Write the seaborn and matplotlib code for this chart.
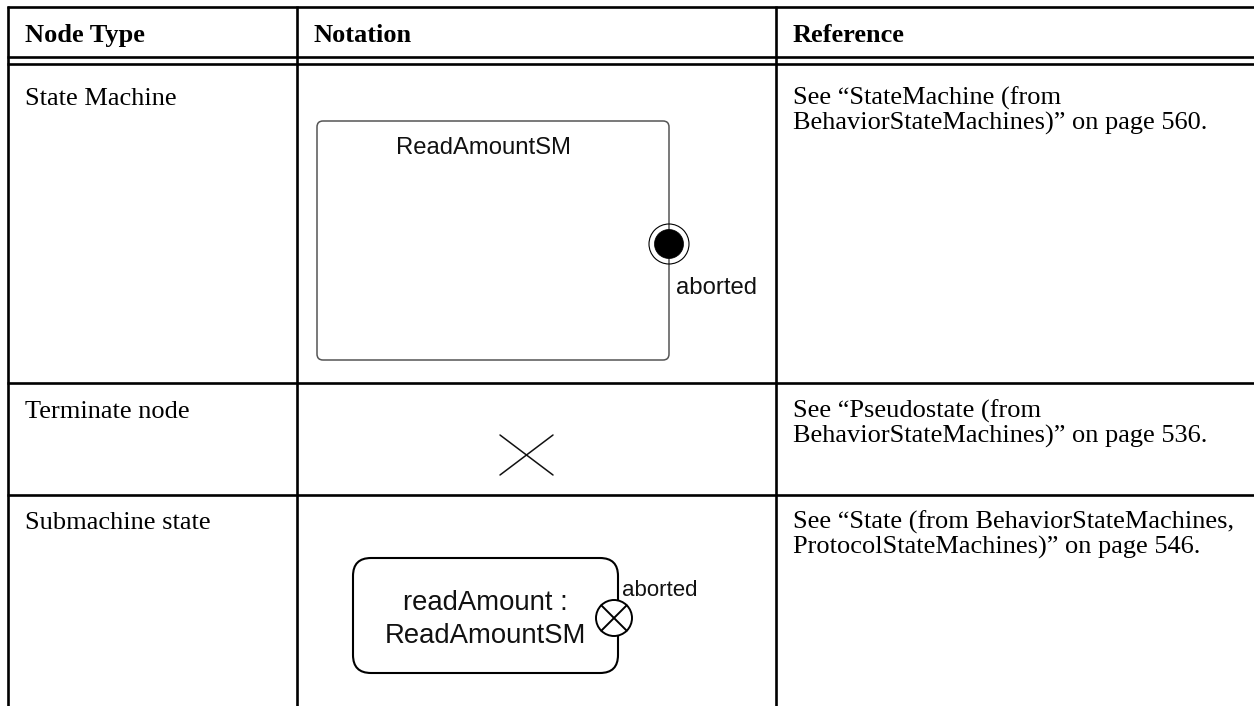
import matplotlib
matplotlib.use("Agg")
import matplotlib.pyplot as plt
from matplotlib.patches import FancyBboxPatch, Circle
import seaborn as sns

# table content
headers = ["Node Type", "Notation", "Reference"]
node_types = ["State Machine", "Terminate node", "Submachine state"]
references = [
    ["See \u201cStateMachine (from", "BehaviorStateMachines)\u201d on page 560."],
    ["See \u201cPseudostate (from", "BehaviorStateMachines)\u201d on page 536."],
    ["See \u201cState (from BehaviorStateMachines,", "ProtocolStateMachines)\u201d on page 546."],
]
sm_name = "ReadAmountSM"
exit_label = "aborted"
submachine_lines = ["readAmount :", "ReadAmountSM"]

sns.set_theme(style="white")
serif = ["Liberation Serif", "DejaVu Serif"]
sans = ["Liberation Sans", "DejaVu Sans"]

W, H = 1254, 706
fig = plt.figure(figsize=(W / 100, H / 100), dpi=100)
ax = fig.add_axes([0, 0, 1, 1])
ax.set_xlim(0, W)
ax.set_ylim(H, 0)
ax.axis("off")

# grid of the table (pixel layout)
col_x = [8, 297, 776]
row_y = [7, 57, 64, 383, 495]
lw = 1.9
for y in row_y:
    ax.plot([col_x[0] - 1, W], [y, y], color="black", lw=lw, solid_capstyle="butt")
for x in col_x:
    ax.plot([x, x], [row_y[0] - 1, H], color="black", lw=lw, solid_capstyle="butt")

pad = 17
# header
for x, h in zip(col_x, headers):
    ax.text(x + pad, 42, h, family=serif, fontweight="bold", fontsize=19,
            va="baseline", ha="left", color="black")

# body rows
baselines = [105, 418, 529]
for base, name, ref in zip(baselines, node_types, references):
    ax.text(col_x[0] + pad, base, name, family=serif, fontsize=19,
            va="baseline", ha="left", color="black")
    for i, line in enumerate(ref):
        ax.text(col_x[2] + pad, base + i * 25, line, family=serif, fontsize=19,
                va="baseline", ha="left", color="black")

# state machine frame with exit point (final-state style)
ax.add_patch(FancyBboxPatch((317, 121), 352, 239,
                            boxstyle="round,pad=0,rounding_size=6",
                            fc="none", ec="#555555", lw=1.1))
ax.text(483, 154, sm_name, family=sans, fontsize=17.2, ha="center",
        va="baseline", color="#111111")
ax.add_patch(Circle((669, 244), 20, fc="none", ec="black", lw=0.8))
ax.add_patch(Circle((669, 244), 14.5, fc="black", ec="black", lw=0.5))
ax.text(676, 294, exit_label, family=sans, fontsize=17.2, ha="left",
        va="baseline", color="#111111")

# terminate node
ax.plot([500, 553], [435, 475], color="#111111", lw=1.1)
ax.plot([500, 553], [475, 435], color="#111111", lw=1.1)

# submachine state with exit point
ax.add_patch(FancyBboxPatch((353, 558), 265, 115,
                            boxstyle="round,pad=0,rounding_size=18",
                            fc="none", ec="black", lw=1.5))
for i, line in enumerate(submachine_lines):
    ax.text(485, 610 + i * 33, line, family=sans, fontsize=19.8,
            ha="center", va="baseline", color="#111111")
cx, cy, r = 614, 618, 18
ax.add_patch(Circle((cx, cy), r, fc="white", ec="black", lw=1.4, zorder=3))
d = r * 0.7071
ax.plot([cx - d, cx + d], [cy - d, cy + d], color="black", lw=1.4, zorder=4)
ax.plot([cx - d, cx + d], [cy + d, cy - d], color="black", lw=1.4, zorder=4)
ax.text(622, 596, exit_label, family=sans, fontsize=16, ha="left",
        va="baseline", color="#111111")

fig.savefig("out.png", dpi=100, facecolor="white")
